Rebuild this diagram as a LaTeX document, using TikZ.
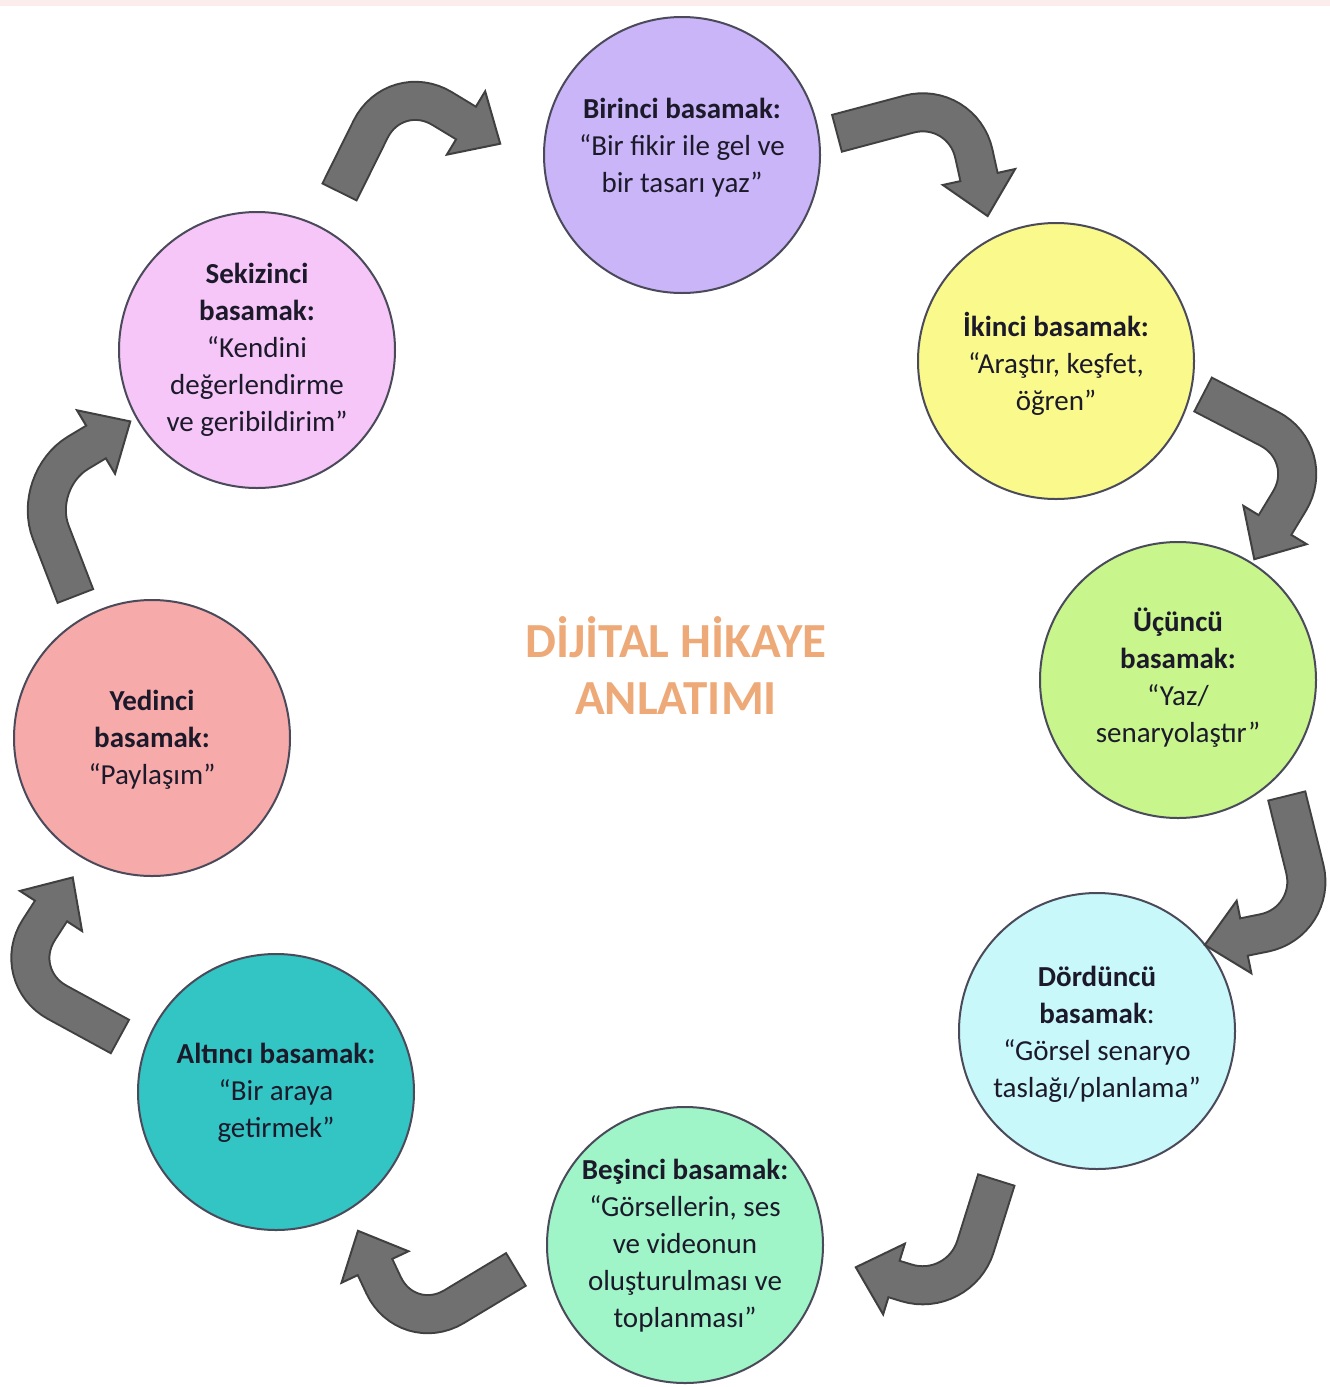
\documentclass[tikz,border=0pt]{standalone}
\usepackage{fontspec}
\setmainfont{Carlito}
\usetikzlibrary{calc}
\definecolor{cone}{HTML}{C9B5F7}
\definecolor{ctwo}{HTML}{FAFA8C}
\definecolor{cthree}{HTML}{C8F58C}
\definecolor{cfour}{HTML}{C8F8FA}
\definecolor{cfive}{HTML}{A0F5C8}
\definecolor{csix}{HTML}{33C4C4}
\definecolor{cseven}{HTML}{F7AAAA}
\definecolor{ceight}{HTML}{F5C6F7}
\definecolor{circline}{HTML}{4A4A5A}
\definecolor{txtcol}{HTML}{1C1A2A}
\definecolor{titlecol}{HTML}{EDAA78}
\definecolor{arrowfill}{HTML}{707070}
\definecolor{arrowline}{HTML}{404040}
\definecolor{topstrip}{HTML}{FCEDED}
\tikzset{
  stepcircle/.style={circle, draw=circline, line width=2pt, minimum size=276pt, inner sep=0pt},
  steptext/.style={align=center, text=txtcol, inner sep=0pt, font=\fontsize{29}{37}\selectfont},
  titletext/.style={align=center, text=titlecol, inner sep=0pt, font=\bfseries\fontsize{49}{57}\selectfont},
  arrowedge/.style={draw=arrowline, line width=40pt, rounded corners=55pt, shorten <=-2pt},
  arrowbody/.style={draw=arrowfill, line width=36pt, rounded corners=55pt, shorten >=-3pt},
  arrowhead/.style={fill=arrowfill, draw=arrowline, line width=2pt, line join=miter},
}
\newcommand\bentarrow[3]{%
  \path[arrowedge] (#1) -- (#2) -- (#3);
  \filldraw[arrowhead] ($(#3)!37pt!90:(#2)$) -- ($(#3)!-40pt!(#2)$) -- ($(#3)!37pt!-90:(#2)$) -- cycle;
  \path[arrowbody] (#1) -- (#2) -- (#3);
}
\begin{document}
\begin{tikzpicture}[x=1pt,y=-1pt]
\useasboundingbox (0,0) rectangle (1330,1387);
\fill[topstrip] (0,0) rectangle (1330,6);

% circles
\node[stepcircle, fill=cone]   (c1) at (682,155) {};
\node[stepcircle, fill=ctwo]   (c2) at (1056,361) {};
\node[stepcircle, fill=cthree] (c3) at (1178,680) {};
\node[stepcircle, fill=cfour]  (c4) at (1097,1031) {};
\node[stepcircle, fill=cfive]  (c5) at (685,1245) {};
\node[stepcircle, fill=csix]   (c6) at (276,1092) {};
\node[stepcircle, fill=cseven] (c7) at (152,738) {};
\node[stepcircle, fill=ceight] (c8) at (257,350) {};

% texts
\node[steptext] (t1) at (682,148) {\textbf{Birinci basamak:}\\“Bir fikir ile gel ve\\bir tasarı yaz”};
\node[steptext] (t2) at (1056,364) {\textbf{İkinci basamak:}\\“Araştır, keşfet,\\öğren”};
\node[steptext] (t3) at (1178,678) {\textbf{Üçüncü}\\\textbf{basamak:}\\“Yaz/\\senaryolaştır”};
\node[steptext] (t4) at (1097,1034) {\textbf{Dördüncü}\\\textbf{basamak}:\\“Görsel senaryo\\taslağı/planlama”};
\node[steptext] (t5) at (685,1246) {\textbf{Beşinci basamak:}\\“Görsellerin, ses\\ve videonun\\oluşturulması ve\\toplanması”};
\node[steptext] (t6) at (276,1093) {\textbf{Altıncı basamak:}\\“Bir araya\\getirmek”};
\node[steptext] (t7) at (152,740) {\textbf{Yedinci}\\\textbf{basamak:}\\“Paylaşım”};
\node[steptext] (t8) at (257,350) {\textbf{Sekizinci}\\\textbf{basamak:}\\“Kendini\\değerlendirme\\ve geribildirim”};

% title
\node[titletext] (title) at (676,665) {DİJİTAL HİKAYE\\ANLATIMI};

% arrows
\coordinate (a1t) at (340,191);  \coordinate (a1k) at (395,80);   \coordinate (a1e) at (466,123);
\coordinate (a2t) at (838,133);  \coordinate (a2k) at (962,100);  \coordinate (a2e) at (979,177);
\coordinate (a3t) at (1204,395); \coordinate (a3k) at (1318,454); \coordinate (a3e) at (1275,525);
\coordinate (a4t) at (1287,797); \coordinate (a4k) at (1318,922); \coordinate (a4e) at (1244,937);
\coordinate (a5t) at (996,1181); \coordinate (a5k) at (959,1299); \coordinate (a5e) at (894,1279);
\coordinate (a6t) at (515,1270); \coordinate (a6k) at (407,1335); \coordinate (a6e) at (375,1267);
\coordinate (a7t) at (119,1036); \coordinate (a7k) at (9,976);    \coordinate (a7e) at (51,911);
\coordinate (a8t) at (75,595);   \coordinate (a8k) at (31,481);   \coordinate (a8e) at (96,442);
\bentarrow{a1t}{a1k}{a1e}
\bentarrow{a2t}{a2k}{a2e}
\bentarrow{a3t}{a3k}{a3e}
\bentarrow{a4t}{a4k}{a4e}
\bentarrow{a5t}{a5k}{a5e}
\bentarrow{a6t}{a6k}{a6e}
\bentarrow{a7t}{a7k}{a7e}
\bentarrow{a8t}{a8k}{a8e}
\end{tikzpicture}
\end{document}
